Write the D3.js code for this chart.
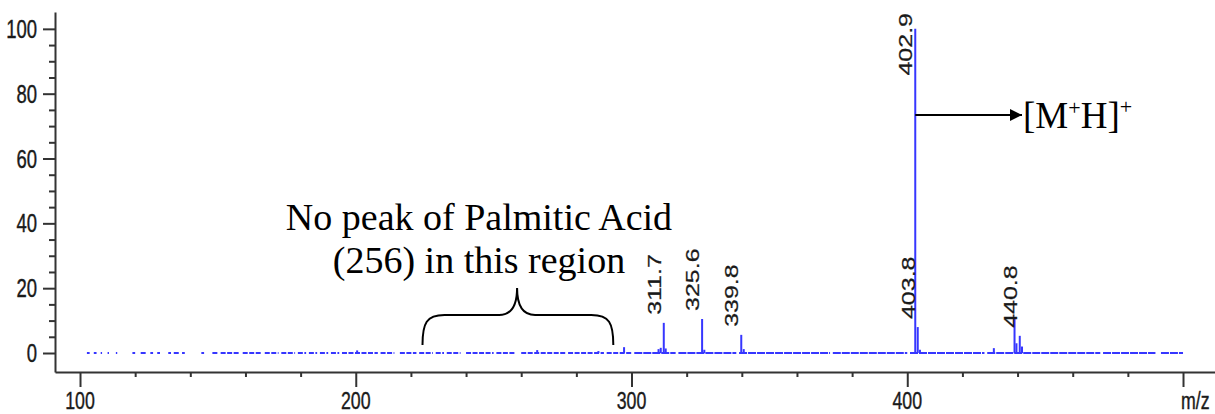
<!DOCTYPE html>
<html>
<head>
<meta charset="utf-8">
<script src="https://cdn.jsdelivr.net/npm/d3@7"></script>
<style>
  body { margin: 0; background: #fff; }
  svg { display: block; }
</style>
</head>
<body>
<script>
// spectrum data (m/z, relative intensity)
const peakMz = [200.5, 265.8, 288.0, 297.3, 309.8, 310.6, 311.7, 312.4, 325.6, 326.4, 339.8, 340.7, 402.9, 403.8, 404.6, 431.4, 438.9, 439.6, 440.8, 441.6];
const peakInt = [0.8, 0.9, 0.6, 1.8, 1.2, 1.6, 9.3, 1.4, 10.5, 1.0, 5.6, 1.2, 100, 8.0, 1.0, 1.5, 11.0, 3.0, 5.3, 2.0];
const labelledMz = [311.7, 325.6, 339.8, 402.9, 403.8, 440.8];

// stretches of m/z where the baseline trace is drawn
const noiseRuns = [[102.5, 103.5], [105, 106], [107.5, 108], [110, 110.5], [113, 113.5], [119, 120], [122, 124],
  [125.5, 126.5], [128, 129], [132, 133], [134, 136], [137, 138], [144, 145], [148, 150], [151, 158], [159, 166],
  [167, 172], [173, 178], [179, 182], [183, 186], [187, 190], [191, 194], [195, 208], [209, 214], [216, 222],
  [223, 228], [229, 232], [233, 238], [240, 250], [251, 258], [260, 276], [277, 290], [291, 300], [301, 316],
  [317, 338], [339, 372], [373, 400], [401, 428], [429, 470], [471, 490], [492, 500]];

const yTicks = [0, 20, 40, 60, 80, 100];
const yMinor = [5, 10, 15, 25, 30, 35, 45, 50, 55, 65, 70, 75, 85, 90, 95];
const xTicks = [100, 200, 300, 400, 500];
const xTickLabels = ['100', '200', '300', '400', 'm/z'];
const xMinor = [120, 140, 160, 180, 220, 240, 260, 280, 320, 340, 360, 380, 420, 440, 460, 480];

const w = 1215;
const h = 414;
const blue = '#3636ff';
const ink = '#333';
const numFont = '"Liberation Sans", Arial, sans-serif';
const squeeze = 0.74; // tick text is narrow in the original

const svg = d3.select('body').append('svg').attr('width', w).attr('height', h);

const xScale = d3.scaleLinear().domain([90.93, 511.6]).range([55, 1215]);
const yScale = d3.scaleLinear().domain([-5.86, 105.2]).range([372, 12]);

// baseline trace
svg.append('g')
  .selectAll('line')
  .data(noiseRuns)
  .enter()
  .append('line')
  .attr('x1', (d) => xScale(d[0]))
  .attr('x2', (d) => xScale(d[1]))
  .attr('y1', yScale(0))
  .attr('y2', yScale(0))
  .attr('stroke', blue)
  .attr('stroke-width', 2)
  .attr('stroke-dasharray', (d) => (d[0] > 300 ? '8,1' : '5,1.5'));

// peaks
svg.append('g')
  .selectAll('line')
  .data(peakMz)
  .enter()
  .append('line')
  .attr('x1', (d) => xScale(d))
  .attr('x2', (d) => xScale(d))
  .attr('y1', yScale(0))
  .attr('y2', (d, i) => yScale(peakInt[i]))
  .attr('stroke', blue)
  .attr('stroke-width', 2);

// axes
svg.append('g').attr('transform', 'translate(55,0)')
  .call(d3.axisLeft(yScale).tickValues(yTicks).tickSize(12).tickSizeOuter(0).tickFormat(''));
svg.append('g').attr('transform', 'translate(55,0)')
  .call(d3.axisLeft(yScale).tickValues(yMinor).tickSize(6).tickFormat(''))
  .select('.domain').remove();
svg.append('g').attr('transform', 'translate(0,372)')
  .call(d3.axisBottom(xScale).tickValues(xTicks).tickSize(15).tickSizeOuter(0).tickFormat(''));
svg.append('g').attr('transform', 'translate(0,372)')
  .call(d3.axisBottom(xScale).tickValues(xMinor).tickSize(5).tickFormat(''))
  .select('.domain').remove();
svg.selectAll('.domain, .tick line').attr('stroke', ink).attr('stroke-width', 2);

// tick labels
svg.append('g')
  .selectAll('text')
  .data(yTicks)
  .enter()
  .append('text')
  .attr('transform', (d) => `translate(37,${yScale(d) + 9}) scale(${squeeze},1)`)
  .attr('text-anchor', 'end')
  .attr('font-family', numFont)
  .attr('font-size', 25)
  .attr('fill', '#1a1a1a')
  .attr('stroke', '#1a1a1a')
  .attr('stroke-width', 0.4)
  .text((d) => d);

svg.append('g')
  .selectAll('text')
  .data(xTicks)
  .enter()
  .append('text')
  .attr('transform', (d, i) => i < 4
    ? `translate(${xScale(d)},409) scale(${squeeze},1)`
    : `translate(${xScale(d) - 2},409) scale(${squeeze},1)`)
  .attr('text-anchor', (d, i) => (i < 4 ? 'middle' : 'start'))
  .attr('font-family', numFont)
  .attr('font-size', 24)
  .attr('fill', '#1a1a1a')
  .attr('stroke', '#1a1a1a')
  .attr('stroke-width', 0.4)
  .text((d, i) => xTickLabels[i]);

// peak labels, rotated
const labels = svg.append('g');
labelledMz.forEach((mz) => {
  const v = peakInt[peakMz.indexOf(mz)];
  const t = labels.append('text')
    .attr('font-family', numFont)
    .attr('font-size', 25)
    .attr('fill', '#1a1a1a')
    .attr('stroke', '#1a1a1a')
    .attr('stroke-width', 0.3)
    .text(mz.toFixed(1));
  const len = t.node().getComputedTextLength();
  const bottom = Math.max(yScale(v) - 8, 13 + len);
  t.attr('transform', `translate(${xScale(mz) - 3},${bottom}) scale(${squeeze},1) rotate(-90)`);
});

// annotation: no palmitic acid peak
const serif = '"Liberation Serif", "Times New Roman", serif';
const note = svg.append('g')
  .attr('font-family', serif)
  .attr('font-size', 38)
  .attr('fill', '#000')
  .attr('text-anchor', 'middle');
note.append('text').attr('x', 479).attr('y', 230).text('No peak of Palmitic Acid');
note.append('text').attr('x', 479).attr('y', 273).text('(256) in this region');

const bl = xScale(224.2);
const bm = xScale(258.5);
const br = xScale(293.4);
const braceTop = 315;
svg.append('path')
  .attr('d', `M${bl},345 C${bl},323 ${bl + 4},${braceTop} ${bl + 22},${braceTop}
    L${bm - 18},${braceTop} C${bm - 5},${braceTop} ${bm},${braceTop - 10} ${bm},288
    C${bm},${braceTop - 10} ${bm + 5},${braceTop} ${bm + 18},${braceTop}
    L${br - 22},${braceTop} C${br - 4},${braceTop} ${br},323 ${br},345`)
  .attr('fill', 'none')
  .attr('stroke', '#000')
  .attr('stroke-width', 2);

// annotation: molecular ion arrow
const ax = xScale(402.9);
svg.append('defs').append('marker')
  .attr('id', 'head')
  .attr('viewBox', '0 0 10 10')
  .attr('refX', 10)
  .attr('refY', 5)
  .attr('markerWidth', 9)
  .attr('markerHeight', 6)
  .attr('markerUnits', 'strokeWidth')
  .attr('orient', 'auto')
  .append('path')
  .attr('d', 'M0,0 L10,5 L0,10 Z')
  .attr('fill', '#000');
svg.append('line')
  .attr('x1', ax)
  .attr('x2', 1022)
  .attr('y1', 115)
  .attr('y2', 115)
  .attr('stroke', '#000')
  .attr('stroke-width', 2)
  .attr('marker-end', 'url(#head)');

const ion = svg.append('text')
  .attr('x', 1023)
  .attr('y', 128)
  .attr('font-family', serif)
  .attr('font-size', 37)
  .attr('fill', '#000');
ion.append('tspan').text('[M');
ion.append('tspan').attr('font-size', 22).attr('dy', -13).text('+');
ion.append('tspan').attr('dy', 13).text('H]');
ion.append('tspan').attr('font-size', 22).attr('dy', -14).text('+');
</script>
</body>
</html>
